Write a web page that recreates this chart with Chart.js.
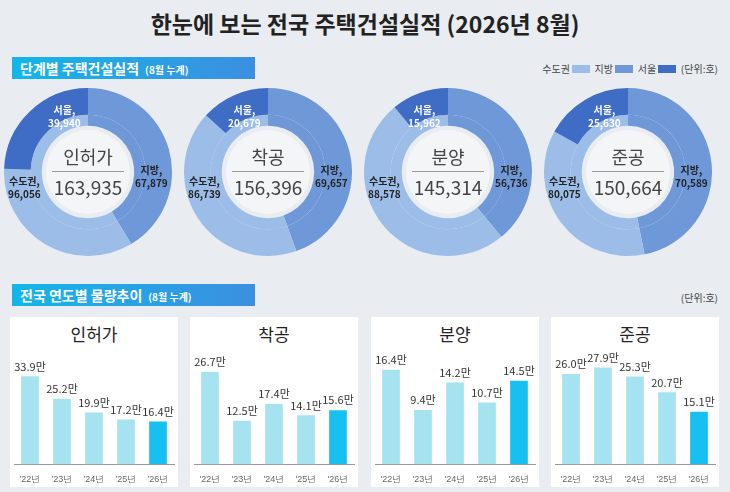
<!DOCTYPE html>
<html><head><meta charset="utf-8">
<script src="https://cdn.jsdelivr.net/npm/chart.js@4"></script>
<style>
body{margin:0;width:730px;height:492px;background:#e9edf1;font-family:"Noto Sans CJK KR",sans-serif;position:relative;overflow:hidden}
.a{position:absolute}
.h{background:linear-gradient(90deg,#13b6e8,#3c8fe0);color:#fff;font-weight:bold;font-size:14px;height:22px;line-height:22px;padding-left:8px;width:235px}
.h small{font-size:10px;margin-left:6px}
.lab{font-size:10px;font-weight:bold;text-align:center;line-height:13px;color:#222}
.ctr{width:84px;height:84px;border-radius:50%;background:#f4f5f7;text-align:center;color:#444}
.ctr .t{font-size:18px;margin-top:14px;line-height:24px}
.ctr hr{border:0;border-top:1px solid #999;margin:3px 6px}
.ctr .v{font-size:19px;line-height:24px}
.pan{background:#fff;width:168px;height:170px;top:317px}
.pan .t{text-align:center;font-size:17px;margin-top:4px;color:#222}
</style></head><body>
<div class="a" style="left:0;width:730px;top:6px;text-align:center;font-size:23px;font-weight:bold;color:#222">한눈에 보는 전국 주택건설실적 (2026년 8월)</div>
<div class="a h" style="left:12px;top:57px">단계별 주택건설실적<small>(8월 누계)</small></div>
<div class="a" style="right:12px;top:61px;font-size:10px;color:#444">수도권 <span style="display:inline-block;width:18px;height:8px;background:#9dbde9"></span>&nbsp; 지방 <span style="display:inline-block;width:18px;height:8px;background:#6f98d8"></span>&nbsp; 서울 <span style="display:inline-block;width:18px;height:8px;background:#3f6cc4"></span>&nbsp; (단위:호)</div>
<div class="a h" style="left:12px;top:284px">전국 연도별 물량추이<small>(8월 누계)</small></div>
<div class="a" style="right:12px;top:290px;font-size:10px;color:#444">(단위:호)</div>
<div id="root"></div>
<script>
const stages = ["인허가", "착공", "분양", "준공"];
const capital = [96056, 86739, 88578, 80075];
const local = [67879, 69657, 56736, 70589];
const seoul = [39940, 20679, 15962, 25630];
const totals = [163935, 156396, 145314, 150664];
const years = ["'22년", "'23년", "'24년", "'25년", "'26년"];
const yearly = [
  [33.9, 25.2, 19.9, 17.2, 16.4],
  [26.7, 12.5, 17.4, 14.1, 15.6],
  [16.4, 9.4, 14.2, 10.7, 14.5],
  [26.0, 27.9, 25.3, 20.7, 15.1]
];
const yMax = [38.4, 28.8, 17.3, 28.7];

const root = document.getElementById("root");
const fmt = n => n.toLocaleString("en-US");
const cx = [88, 268, 448, 628];

stages.forEach((s, i) => {
  let c = document.createElement("canvas");
  c.className = "a";
  c.style.cssText = "left:" + (cx[i] - 84) + "px;top:88px";
  c.width = 168; c.height = 168;
  root.appendChild(c);
  let ctr = document.createElement("div");
  ctr.className = "a ctr";
  ctr.style.cssText = "left:" + (cx[i] - 42) + "px;top:130px";
  ctr.innerHTML = '<div class="t">' + s + '</div><hr><div class="v">' + fmt(totals[i]) + '</div>';
  root.appendChild(ctr);
  let l1 = document.createElement("div");
  l1.className = "a lab"; l1.style.cssText = "left:" + (cx[i] - 80) + "px;top:174px";
  l1.innerHTML = "수도권,<br>" + fmt(capital[i]);
  let l2 = document.createElement("div");
  l2.className = "a lab"; l2.style.cssText = "left:" + (cx[i] + 47) + "px;top:163px";
  l2.innerHTML = "지방,<br>" + fmt(local[i]);
  let l3 = document.createElement("div");
  l3.className = "a lab"; l3.style.cssText = "color:#fff;left:" + (cx[i] - 40) + "px;top:103px";
  l3.innerHTML = "서울,<br>" + fmt(seoul[i]);
  root.append(l1, l2, l3);
  new Chart(c, {
    type: "doughnut",
    data: {
      datasets: [
        { data: [local[i], capital[i] - seoul[i], seoul[i]], backgroundColor: ["#6f98d8", "#9dbde9", "#3f6cc4"], borderWidth: 0, weight: 24 },
        { data: [local[i], capital[i]], backgroundColor: ["#6f98d8", "#9dbde9"], borderWidth: 0, weight: 10 }
      ]
    },
    options: { responsive: false, animation: false, cutout: "55%", plugins: { legend: { display: false }, tooltip: { enabled: false } } }
  });
});

const valueLabels = {
  id: "vl",
  afterDatasetsDraw(chart) {
    const ctx = chart.ctx;
    ctx.save();
    ctx.font = "11px 'Noto Sans CJK KR'";
    ctx.fillStyle = "#333";
    ctx.textAlign = "center";
    chart.getDatasetMeta(0).data.forEach((b, j) => {
      ctx.fillText(chart.data.datasets[0].data[j].toFixed(1) + "만", b.x, b.y - 6);
    });
    ctx.restore();
  }
};

const px = [10, 190, 371, 551];
stages.forEach((s, i) => {
  let p = document.createElement("div");
  p.className = "a pan";
  p.style.left = px[i] + "px";
  p.innerHTML = '<div class="t">' + s + '</div>';
  let c = document.createElement("canvas");
  c.width = 168; c.height = 140;
  c.style.cssText = "position:absolute;left:0;top:30px";
  p.appendChild(c);
  root.appendChild(p);
  new Chart(c, {
    type: "bar",
    data: {
      labels: years,
      datasets: [{ data: yearly[i], backgroundColor: ["#a6e3f0", "#a6e3f0", "#a6e3f0", "#a6e3f0", "#16c0f0"], barThickness: 17 }]
    },
    options: {
      responsive: false, animation: false,
      layout: { padding: { left: 4, right: 4, top: 18, bottom: 0 } },
      scales: {
        x: { grid: { display: false }, border: { color: "#999" }, ticks: { color: "#666", font: { size: 9 }, padding: 2 } },
        y: { display: false, min: 0, max: yMax[i] }
      },
      plugins: { legend: { display: false }, tooltip: { enabled: false } }
    },
    plugins: [valueLabels]
  });
});
</script>
</body></html>
